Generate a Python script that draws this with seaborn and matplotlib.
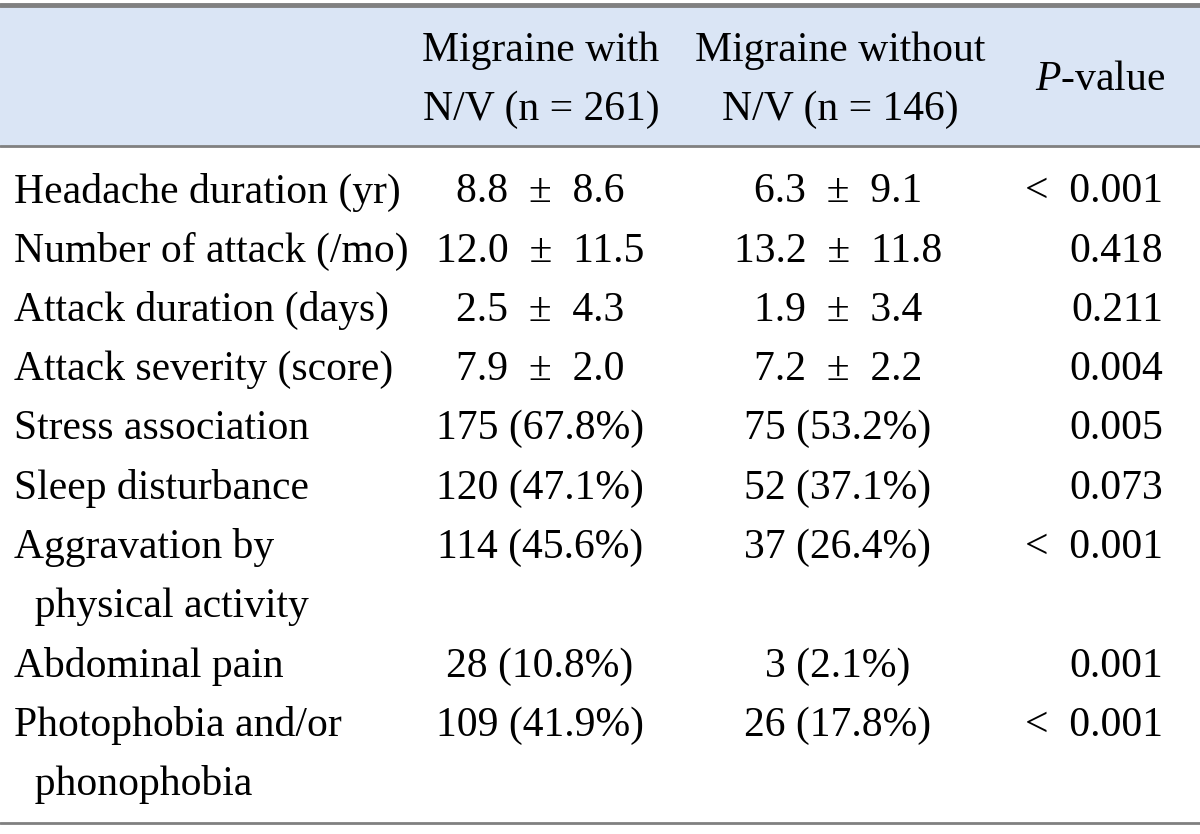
import seaborn as sns
import matplotlib.pyplot as plt

# table content
labels = [
    "Headache duration (yr)",
    "Number of attack (/mo)",
    "Attack duration (days)",
    "Attack severity (score)",
    "Stress association",
    "Sleep disturbance",
    "Aggravation by\n  physical activity",
    "Abdominal pain",
    "Photophobia and/or\n  phonophobia",
]
with_nv = ["8.8 ± 8.6", "12.0 ± 11.5", "2.5 ± 4.3", "7.9 ± 2.0", "175 (67.8%)",
           "120 (47.1%)", "114 (45.6%)", "28 (10.8%)", "109 (41.9%)"]
without_nv = ["6.3 ± 9.1", "13.2 ± 11.8", "1.9 ± 3.4", "7.2 ± 2.2", "75 (53.2%)",
              "52 (37.1%)", "37 (26.4%)", "3 (2.1%)", "26 (17.8%)"]
p_values = ["< 0.001", "0.418", "0.211", "0.004", "0.005", "0.073", "< 0.001",
            "0.001", "< 0.001"]
header_with = "Migraine with\nN/V (n = 261)"
header_without = "Migraine without\nN/V (n = 146)"
header_p = "$\\mathit{P}$-value"

sns.set_theme(style="white")
plt.rcParams['font.family'] = ['Liberation Serif', 'DejaVu Serif']
plt.rcParams['text.color'] = 'black'
plt.rcParams['mathtext.fontset'] = 'custom'
plt.rcParams['mathtext.rm'] = 'Liberation Serif'
plt.rcParams['mathtext.it'] = 'Liberation Serif:italic'

header_color = (218/255, 229/255, 245/255)
rule_color = (0.5, 0.5, 0.5)
fs = 30


def spaced(s):
    # the source typesets ± and < with generous spacing
    return s.replace(" ± ", "  ±  ").replace("< ", "<  ")


fig = plt.figure(figsize=(12, 8.34), dpi=100)
ax = fig.add_axes([0, 0, 1, 1])
ax.set_xlim(0, 1200)
ax.set_ylim(834, 0)
ax.axis('off')

# header band and rules
ax.axhspan(7, 145, color=header_color, zorder=0)
ax.axhline(5, color=rule_color, lw=3.5)
ax.axhline(146, color=rule_color, lw=2)
ax.axhline(823, color=rule_color, lw=2)

ax.text(541, 80, header_with, ha='center', va='center', fontsize=fs, linespacing=1.7)
ax.text(840, 80, header_without, ha='center', va='center', fontsize=fs, linespacing=1.7)
ax.text(1165, 80, header_p, ha='right', va='center', fontsize=fs)

y0, step = 192, 59.3
line = 0
for lab, a, b, p in zip(labels, with_nv, without_nv, p_values):
    y = y0 + line * step
    for k, part in enumerate(lab.split("\n")):
        ax.text(14, y + k * step, part, ha='left', va='center', fontsize=fs)
    ax.text(540, y, spaced(a), ha='center', va='center', fontsize=fs)
    ax.text(838, y, spaced(b), ha='center', va='center', fontsize=fs)
    ax.text(1163, y, spaced(p), ha='right', va='center', fontsize=fs)
    line += len(lab.split("\n"))

fig.savefig("out.png", dpi=100)
